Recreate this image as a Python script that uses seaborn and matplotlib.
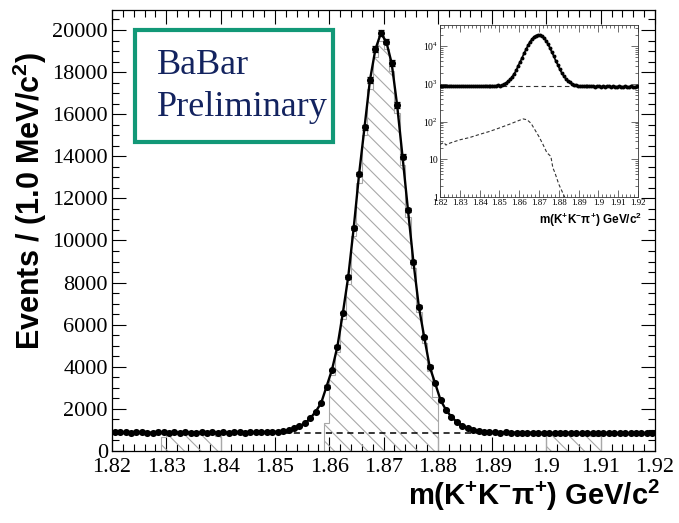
import numpy as np
import pandas as pd
import matplotlib
matplotlib.use("Agg")
import matplotlib.pyplot as plt
import seaborn as sns
from matplotlib.patches import Rectangle
from matplotlib.ticker import MultipleLocator, FixedLocator, NullFormatter, LogLocator

# ---------------- data ----------------
hist_start = 1.820          # GeV/c^2
bin_width = 0.001           # 1 MeV bins
counts = [
    905, 880, 895, 870, 885, 900, 875, 860, 890, 880,
    870, 895, 865, 880, 875, 860, 885, 870, 890, 875,
    880, 865, 890, 900, 870, 885, 895, 880, 905, 915,
    900, 930, 990, 1080, 1180, 1310, 1550, 1870, 2270, 3060,
    3850, 4960, 6540, 8280, 10580, 13160, 15380, 17620, 19080, 19840,
    19450, 18420, 16440, 13980, 11450, 8990, 6860, 5400, 4000, 3220,
    2420, 1950, 1620, 1380, 1210, 1090, 1010, 960, 920, 900,
    885, 870, 880, 860, 875, 855, 870, 865, 850, 870,
    860, 845, 865, 850, 870, 855, 840, 860, 850, 845,
    865, 850, 840, 855, 845, 835, 860, 850, 840, 855,
]
background_level = 860

signal_edges = [1.859, 1.860, 1.861, 1.862, 1.863, 1.864, 1.865, 1.866, 1.867, 1.868, 1.869,
                1.870, 1.871, 1.872, 1.873, 1.874, 1.875, 1.876, 1.877, 1.878, 1.879, 1.880]
signal_hatch = [1340, 3600, 4700, 6250, 7950, 10200, 12750, 15000, 17200, 18700, 19500,
                19100, 18050, 16050, 13600, 11100, 8700, 6600, 5150, 3800, 2570]
left_sb_edges = [1.829, 1.830, 1.831, 1.832, 1.833, 1.834, 1.835, 1.836, 1.837, 1.838, 1.839, 1.840]
left_sb_hatch = [650, 850, 850, 850, 850, 850, 850, 850, 850, 850, 710]
right_sb_edges = [1.900, 1.901, 1.902, 1.903, 1.904, 1.905, 1.906, 1.907, 1.908, 1.909, 1.910]
right_sb_hatch = [840, 840, 840, 840, 840, 840, 840, 840, 710, 710]

refl_x = [1.820, 1.822, 1.823, 1.825, 1.830, 1.835, 1.840, 1.845, 1.850, 1.855, 1.860,
          1.862, 1.864, 1.866, 1.868, 1.870, 1.872, 1.874, 1.876, 1.877, 1.878, 1.880,
          1.882, 1.883]
refl_y = [25, 28, 24, 27, 33, 38, 46, 55, 68, 85, 108, 118, 112, 90, 60, 40, 25, 15, 12,
          6, 4.5, 2.2, 1.3, 1.0]

xtick_vals = [1.82, 1.83, 1.84, 1.85, 1.86, 1.87, 1.88, 1.89, 1.90, 1.91, 1.92]
xtick_labels = ["1.82", "1.83", "1.84", "1.85", "1.86", "1.87", "1.88", "1.89", "1.9", "1.91", "1.92"]
ytick_vals = [0, 2000, 4000, 6000, 8000, 10000, 12000, 14000, 16000, 18000, 20000]
inset_yticks = [1, 10, 100, 1000, 10000]
inset_ylabels = ["1", "10", r"10$^{2}$", r"10$^{3}$", r"10$^{4}$"]

centers = [round(hist_start + bin_width * (i + 0.5), 4) for i in range(len(counts))]
df = pd.DataFrame({"mass": centers, "events": counts})
df["err"] = np.sqrt(df["events"])
refl = pd.DataFrame({"mass": refl_x, "events": refl_y})

# ---------------- style ----------------
sns.set_style("ticks")
plt.rcParams["font.family"] = ["Liberation Serif", "DejaVu Serif"]
plt.rcParams["mathtext.default"] = "regular"
plt.rcParams["text.color"] = "black"
plt.rcParams["axes.labelcolor"] = "black"
plt.rcParams["xtick.color"] = "black"
plt.rcParams["ytick.color"] = "black"
plt.rcParams["hatch.color"] = "#a8a8a8"
plt.rcParams["hatch.linewidth"] = 0.8

fig = plt.figure(figsize=(6.79, 5.23), dpi=100)
ax = fig.add_axes([0.1650, 0.1377, 0.7997, 0.8432])

hatch_kw = dict(fill=True, facecolor="none", edgecolor="#a8a8a8", hatch="\\\\", linewidth=0.8, zorder=1)
ax.stairs(signal_hatch, signal_edges, **hatch_kw)
ax.stairs(left_sb_hatch, left_sb_edges, **hatch_kw)
ax.stairs(right_sb_hatch, right_sb_edges, **hatch_kw)

ax.axhline(background_level, color="black", lw=1.1, ls=(0, (4, 3)), zorder=2)
sns.lineplot(data=df, x="mass", y="events", color="black", lw=1.7, ax=ax, zorder=3)
ax.errorbar(df["mass"], df["events"], yerr=df["err"], fmt="none", ecolor="black",
            elinewidth=0.9, capsize=2.5, capthick=0.9, zorder=4)
sns.scatterplot(data=df, x="mass", y="events", color="black", s=26, edgecolor="black",
                linewidth=0, ax=ax, zorder=5)

ax.set_xlim(1.82, 1.92)
ax.set_ylim(0, 20950)
ax.set_xlabel("")
ax.set_ylabel("")
ax.xaxis.set_major_locator(FixedLocator(xtick_vals))
ax.set_xticklabels(xtick_labels)
ax.xaxis.set_minor_locator(MultipleLocator(0.002))
ax.yaxis.set_major_locator(FixedLocator(ytick_vals))
ax.yaxis.set_minor_locator(MultipleLocator(500))
ax.tick_params(which="both", direction="in", top=True, right=True, width=0.8, colors="black")
ax.tick_params(which="major", length=10, labelsize=16, pad=5)
ax.tick_params(which="minor", length=5)
ax.tick_params(axis="y", which="major", pad=3)
for s in ax.spines.values():
    s.set_linewidth(0.9)
    s.set_color("black")

fig.text(0.044, 0.615, r"Events / (1.0 MeV/c$^{2}$)", rotation=90, ha="center", va="center",
         fontsize=22, fontweight="bold", family=["Liberation Sans", "DejaVu Sans"])
fig.text(0.972, 0.0535, r"m(K$^{+}$K$^{-}$$\pi^{+}$) GeV/c$^{2}$", ha="right", va="center",
         fontsize=21, fontweight="bold", family=["Liberation Sans", "DejaVu Sans"])

# BaBar box
fig.patches.append(Rectangle((0.1988, 0.7285), 0.2916, 0.2141, transform=fig.transFigure,
                             facecolor="white", edgecolor="#129877", lw=3.0, zorder=10))
fig.text(0.2312, 0.8757, "BaBar", fontsize=26, color="#13235f", ha="left", va="center", zorder=11)
fig.text(0.2312, 0.7935, "Preliminary", fontsize=26, color="#13235f", ha="left", va="center", zorder=11)

# ---------------- inset ----------------
axi = fig.add_axes([0.648, 0.623, 0.2916, 0.329])
axi.set_facecolor("white")
axi.axhline(background_level, color="#333333", lw=0.8, ls=(0, (4, 3)), zorder=2)
sns.lineplot(data=refl, x="mass", y="events", color="#333333", lw=0.8, ls=(0, (3, 2)), ax=axi, zorder=2)
sns.lineplot(data=df, x="mass", y="events", color="black", lw=1.2, ax=axi, zorder=3)
sns.scatterplot(data=df, x="mass", y="events", color="black", s=8, linewidth=0, ax=axi, zorder=4)
axi.set_yscale("log")
axi.set_xlim(1.82, 1.92)
axi.set_ylim(1, 36000)
axi.set_xlabel("")
axi.set_ylabel("")
axi.xaxis.set_major_locator(FixedLocator(xtick_vals))
axi.set_xticklabels(xtick_labels)
axi.xaxis.set_minor_locator(MultipleLocator(0.002))
axi.yaxis.set_major_locator(FixedLocator(inset_yticks))
axi.set_yticklabels(inset_ylabels)
axi.yaxis.set_minor_locator(LogLocator(base=10, subs=np.arange(2, 10) * 1.0, numticks=20))
axi.yaxis.set_minor_formatter(NullFormatter())
axi.tick_params(which="both", direction="in", top=True, right=True, width=0.5, colors="#333333")
axi.tick_params(which="major", length=5, pad=1.5)
axi.tick_params(which="minor", length=2.5)
axi.tick_params(axis="x", labelsize=6.5, labelcolor="black")
axi.tick_params(axis="y", labelsize=7, labelcolor="black")
for s in axi.spines.values():
    s.set_linewidth(0.6)
    s.set_color("#333333")
fig.text(0.945, 0.580, r"m(K$^{+}$K$^{-}$$\pi^{+}$) GeV/c$^{2}$", ha="right", va="center",
         fontsize=8.5, fontweight="bold", family=["Liberation Sans", "DejaVu Sans"])

fig.savefig("out.png", dpi=100)
